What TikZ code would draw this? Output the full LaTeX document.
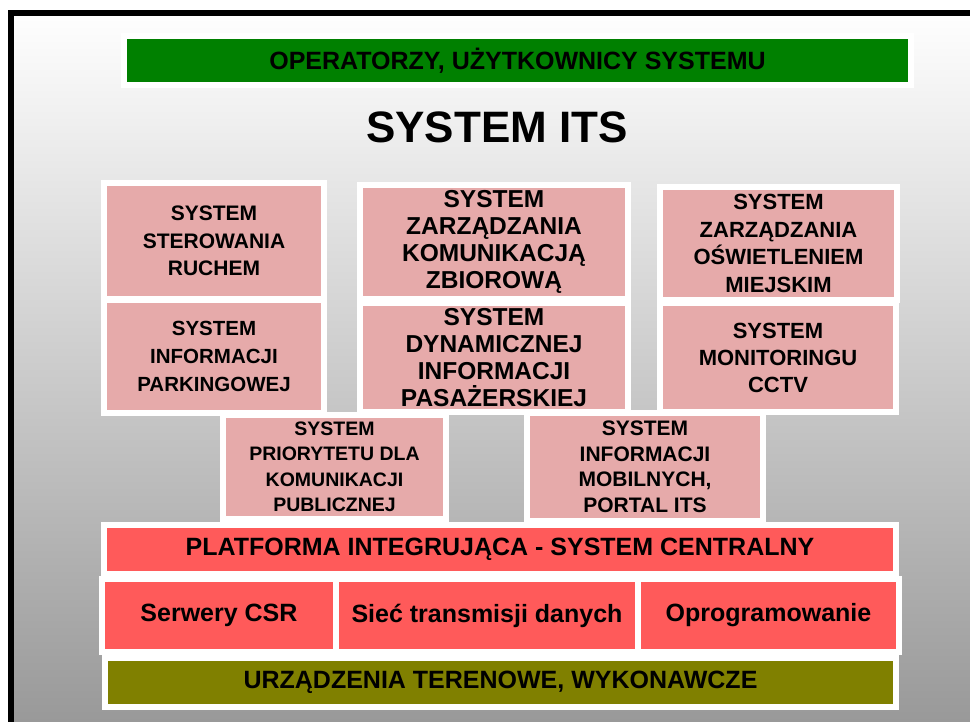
\documentclass[tikz,border=0pt]{standalone}
\usepackage{fontspec}
\setmainfont{Liberation Sans}

\definecolor{zielony}{HTML}{008000}
\definecolor{rozowy}{HTML}{E6AAAA}
\definecolor{czerwony}{HTML}{FF5A5A}
\definecolor{oliwka}{HTML}{808000}

\newcommand\czcionka[2]{\fontsize{#1}{#2}\selectfont\bfseries}

\tikzset{
  blok/.style={draw=white, line width=6pt, inner sep=0pt, outer sep=0pt, align=center, text=black},
  zielonyblok/.style={blok, fill=zielony},
  rozowyblok/.style={blok, fill=rozowy},
  czerwonyblok/.style={blok, fill=czerwony},
  oliwkowyblok/.style={blok, fill=oliwka}
}

\begin{document}
\begin{tikzpicture}[x=1pt, y=-1pt]

      % Tło i ramka
      \useasboundingbox (0,0) rectangle (970,722);
      \fill[white] (0,0) rectangle (970,722);
      \shade[top color=white, bottom color=gray!80] (8,10) rectangle (970,722);
      \draw[line width=6pt] (11,722) -- (11,13) -- (970,13);

      % Góra: użytkownicy i tytuł
      \node[zielonyblok, minimum width=787pt, minimum height=49pt, font={\czcionka{25}{30}}] (operatorzy) at (517.5,60.5) {OPERATORZY, UŻYTKOWNICY SYSTEMU};
      \node[font={\czcionka{44}{50}}] (tytul) at (497,127) {SYSTEM ITS};

      % Podsystemy - pierwszy rząd
      \node[rozowyblok, minimum width=220pt, minimum height=116pt, font={\czcionka{21}{27.5}}] (sterowanie) at (214,241) {SYSTEM\\STEROWANIA\\RUCHEM};
      \node[rozowyblok, minimum width=268pt, minimum height=114pt, font={\czcionka{24.5}{27}}] (zbiorowa) at (494,242) {SYSTEM\\ZARZĄDZANIA\\KOMUNIKACJĄ\\ZBIOROWĄ};
      \node[rozowyblok, minimum width=237pt, minimum height=113pt, font={\czcionka{22}{27.5}}] (oswietlenie) at (778.5,243.5) {SYSTEM\\ZARZĄDZANIA\\OŚWIETLENIEM\\MIEJSKIM};

      % Podsystemy - drugi rząd
      \node[rozowyblok, minimum width=220pt, minimum height=113pt, font={\czcionka{20.5}{28}}] (parkingi) at (214,356.5) {SYSTEM\\INFORMACJI\\PARKINGOWEJ};
      \node[rozowyblok, minimum width=268pt, minimum height=109pt, font={\czcionka{24.5}{27}}] (pasazerowie) at (494,357.5) {SYSTEM\\DYNAMICZNEJ\\INFORMACJI\\PASAŻERSKIEJ};
      \node[rozowyblok, minimum width=236pt, minimum height=109pt, font={\czcionka{22}{27}}] (monitoring) at (778,357.5) {SYSTEM\\MONITORINGU\\CCTV};

      % Podsystemy - trzeci rząd
      \node[rozowyblok, minimum width=223pt, minimum height=104pt, font={\czcionka{19.5}{25.5}}] (priorytet) at (334.5,467) {SYSTEM\\PRIORYTETU DLA\\KOMUNIKACJI\\PUBLICZNEJ};
      \node[rozowyblok, minimum width=236pt, minimum height=108pt, font={\czcionka{21}{25.5}}] (mobilne) at (645,467) {SYSTEM\\INFORMACJI\\MOBILNYCH,\\PORTAL ITS};

      % Platforma centralna
      \node[czerwonyblok, minimum width=792pt, minimum height=49pt, font={\czcionka{25}{30}}] (platforma) at (500,549.5) {PLATFORMA INTEGRUJĄCA - SYSTEM CENTRALNY};
      \node[czerwonyblok, minimum width=234pt, minimum height=73pt, font={\czcionka{25}{30}}] (serwery) at (219,615.5) {Serwery CSR};
      \node[czerwonyblok, minimum width=302pt, minimum height=73pt, font={\czcionka{25}{30}}] (siec) at (487,615.5) {Sieć transmisji danych};
      \node[czerwonyblok, minimum width=261pt, minimum height=73pt, font={\czcionka{25}{30}}] (oprogramowanie) at (768.5,615.5) {Oprogramowanie};

      % Warstwa terenowa
      \node[oliwkowyblok, minimum width=791pt, minimum height=49pt, font={\czcionka{25}{30}}] (urzadzenia) at (500.5,682.5) {URZĄDZENIA TERENOWE, WYKONAWCZE};

\end{tikzpicture}
\end{document}
